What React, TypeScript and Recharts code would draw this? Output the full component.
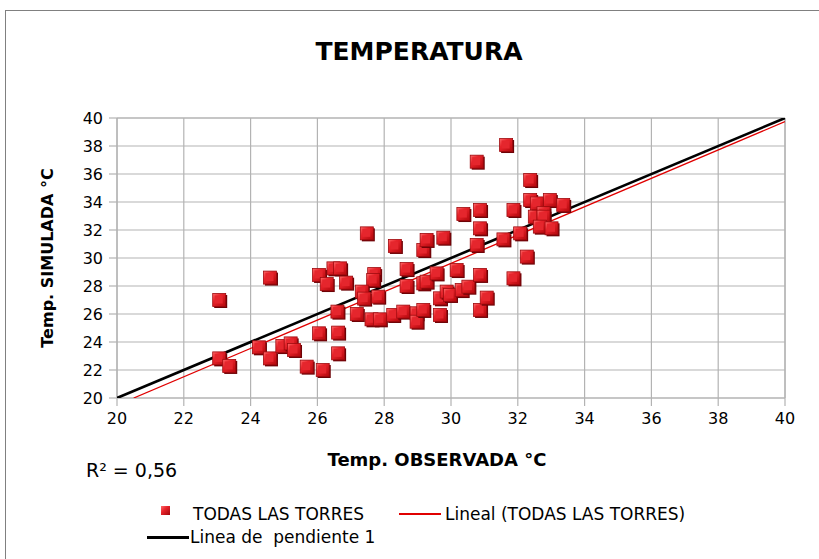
import React from 'react';
import { ScatterChart, Scatter, XAxis, YAxis, CartesianGrid, ReferenceLine, Label } from 'recharts';

const obsX = [23.06, 23.06, 23.36, 24.58, 24.25, 24.58, 24.95, 25.2, 25.3, 25.68, 26.05, 26.16, 26.05, 26.28, 26.48, 26.68, 26.6, 26.62, 26.62, 26.86, 27.48, 28.32, 27.7, 27.67, 27.18, 27.33, 27.4, 27.82, 27.62, 27.87, 28.27, 28.57, 28.67, 28.67, 28.97, 28.97, 29.17, 29.27, 29.17, 29.27, 29.17, 29.57, 29.67, 29.77, 29.67, 29.87, 29.97, 30.17, 30.37, 30.32, 30.52, 30.77, 30.87, 30.87, 30.77, 30.87, 30.87, 31.07, 31.57, 31.65, 31.87, 31.87, 32.07, 32.27, 32.37, 32.37, 32.57, 32.96, 33.36, 32.51, 32.77, 32.77, 32.66, 33.01];
const simY = [27.0, 22.83, 22.29, 28.6, 23.62, 22.83, 23.71, 23.9, 23.43, 22.24, 28.79, 22.0, 24.62, 28.14, 29.26, 29.26, 26.17, 24.67, 23.19, 28.24, 31.76, 30.86, 28.85, 28.43, 26.0, 27.6, 27.1, 27.24, 25.62, 25.62, 25.93, 26.17, 29.21, 28.0, 26.05, 25.45, 30.57, 31.29, 28.19, 28.31, 26.29, 28.9, 25.93, 31.45, 27.12, 27.6, 27.36, 29.14, 33.14, 27.71, 27.95, 36.88, 33.43, 32.12, 30.93, 28.79, 26.29, 27.17, 31.33, 38.07, 33.43, 28.55, 31.76, 30.1, 35.57, 34.14, 33.9, 34.14, 33.79, 32.95, 33.2, 32.95, 32.24, 32.12];

const slopeOneX = [20, 40];
const slopeOneY = [20, 40];
const trendX = [20.5, 40];
const trendY = [20, 39.74];

const xTicks = [20, 22, 24, 26, 28, 30, 32, 34, 36, 38, 40];
const yTicks = [20, 22, 24, 26, 28, 30, 32, 34, 36, 38, 40];

const title = 'TEMPERATURA';
const xLabel = 'Temp. OBSERVADA °C';
const yLabel = 'Temp. SIMULADA °C';
const r2Text = 'R² = 0,56';
const seriesName = 'TODAS LAS TORRES';
const trendName = 'Lineal (TODAS LAS TORRES)';
const slopeName = 'Linea de  pendiente 1';

const points = obsX.map((x, i) => ({ x, y: simY[i] }));
const slopeData = slopeOneX.map((x, i) => ({ x, y: slopeOneY[i] }));
const trendData = trendX.map((x, i) => ({ x, y: trendY[i] }));

const FONT = '"DejaVu Sans", sans-serif';
const GRID = '#b3b3b3';

const Marker = (props: any) => {
  const { cx, cy } = props;
  if (cx == null || cy == null) return null;
  const s = 13;
  const x = cx - s / 2;
  const y = cy - s / 2;
  return (
    <g>
      <defs>
        <linearGradient id="mkGrad" x1="0" y1="0" x2="1" y2="1">
          <stop offset="0" stopColor="#ff6b6b" />
          <stop offset="0.35" stopColor="#e8242b" />
          <stop offset="1" stopColor="#b3070c" />
        </linearGradient>
      </defs>
      <rect x={x + 1.5} y={y + 1.5} width={s} height={s} fill="#6d0206" />
      <rect x={x} y={y} width={s} height={s} fill="url(#mkGrad)" stroke="#9e0a0e" strokeWidth={0.8} />
      <rect x={x + 2} y={y + 2} width={s - 5} height={s - 5} fill="#e5262d" />
    </g>
  );
};

const NoShape = () => null;

const LegendBlock = () => (
  <div style={{ position: 'absolute', left: 0, top: 495, width: 819, height: 60, fontFamily: FONT, fontSize: 17, color: '#000' }}>
    <div style={{ position: 'absolute', left: 161, top: 11, width: 9, height: 9, background: 'linear-gradient(135deg,#ff6b6b,#e8242b 40%,#a0060b)' }} />
    <div style={{ position: 'absolute', left: 193, top: 9, lineHeight: '20px', whiteSpace: 'pre' }}>{seriesName}</div>
    <div style={{ position: 'absolute', left: 399, top: 18, width: 42, height: 1.5, background: '#e00000' }} />
    <div style={{ position: 'absolute', left: 445, top: 9, lineHeight: '20px', whiteSpace: 'pre' }}>{trendName}</div>
    <div style={{ position: 'absolute', left: 147, top: 41, width: 42, height: 3, background: '#000' }} />
    <div style={{ position: 'absolute', left: 190, top: 32, lineHeight: '20px', whiteSpace: 'pre' }}>{slopeName}</div>
  </div>
);

export default function App() {
  return (
    <div style={{ position: 'absolute', left: 0, top: 0, width: 819, height: 559, background: '#fff', overflow: 'hidden' }}>
      <div style={{ position: 'absolute', left: 5, top: 10, width: 830, height: 560, borderLeft: '1.5px solid #808080', borderTop: '1.5px solid #808080' }} />
      <div style={{ position: 'absolute', left: 0, top: 37, width: 838, textAlign: 'center', fontFamily: FONT, fontWeight: 'bold', fontSize: 25, lineHeight: '30px' }}>{title}</div>
      <div style={{ position: 'absolute', left: 86, top: 459, fontFamily: FONT, fontSize: 19, lineHeight: '22px', whiteSpace: 'pre' }}>{r2Text}</div>
      <ScatterChart width={819} height={559} margin={{ top: 118, right: 34, bottom: 131, left: 57 }} style={{ position: 'absolute', left: 0, top: 0 }}>
        <CartesianGrid stroke={GRID} strokeWidth={1.2} horizontalValues={yTicks} verticalValues={xTicks} />
        <XAxis type="number" dataKey="x" domain={[20, 40]} ticks={xTicks} allowDataOverflow height={30}
          axisLine={{ stroke: GRID, strokeWidth: 1.2 }} tickLine={{ stroke: GRID, strokeWidth: 1.2 }} tickSize={8} tickMargin={7}
          tick={{ fill: '#000', fontSize: 16, fontFamily: FONT }} interval={0}>
          <Label content={() => (
            <text x={437} y={466} textAnchor="middle" fontFamily={FONT} fontWeight="bold" fontSize={18} fill="#000">{xLabel}</text>
          )} />
        </XAxis>
        <YAxis type="number" dataKey="y" domain={[20, 40]} ticks={yTicks} allowDataOverflow width={60}
          axisLine={{ stroke: GRID, strokeWidth: 1.2 }} tickLine={{ stroke: GRID, strokeWidth: 1.2 }} tickSize={8} tickMargin={6}
          tick={{ fill: '#000', fontSize: 16, fontFamily: FONT }} interval={0}>
          <Label content={() => (
            <text x={53} y={258} transform="rotate(-90 53 258)" textAnchor="middle" fontFamily={FONT} fontWeight="bold" fontSize={16} fill="#000">{yLabel}</text>
          )} />
        </YAxis>
        <ReferenceLine x={40} stroke={GRID} strokeWidth={1.2} />
        <ReferenceLine y={40} stroke={GRID} strokeWidth={1.2} />
        <Scatter name={trendName} data={trendData} line={{ stroke: '#e00000', strokeWidth: 1.3 }} lineType="joint" shape={NoShape} isAnimationActive={false} legendType="none" />
        <Scatter name={slopeName} data={slopeData} line={{ stroke: '#000', strokeWidth: 2.6 }} lineType="joint" shape={NoShape} isAnimationActive={false} legendType="none" />
        <Scatter name={seriesName} data={points} shape={Marker} isAnimationActive={false} />
      </ScatterChart>
      <LegendBlock />
    </div>
  );
}
